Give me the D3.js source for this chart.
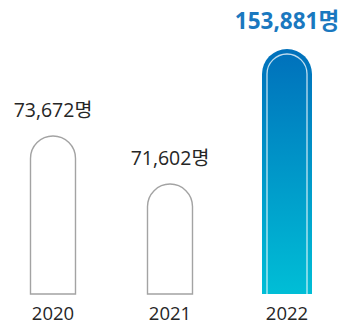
<!DOCTYPE html>
<html><head><meta charset="utf-8">
<script src="https://cdn.jsdelivr.net/npm/d3@7/dist/d3.min.js"></script>
<style>html,body{margin:0;padding:0;background:#fff;}svg{display:block;}</style>
</head><body>
<svg id="c" width="342" height="324"></svg>
<script>
const years = ["2020", "2021", "2022"];
const values = [73672, 71602, 153881];
const labels = ["73,672명", "71,602명", "153,881명"];
const highlight = [false, false, true];

const W = 342, H = 324, baseY = 294;
const svg = d3.select("#c");
const x = d3.scalePoint().domain(years).range([53, 287]);
// pictogram heights (not strictly proportional in the original)
const y = d3.scaleLinear().domain([71000, 74000, 154000]).range([198, 128.4, 48.9]);

const defs = svg.append("defs");
const g = defs.append("linearGradient").attr("id","grad").attr("x1",0).attr("y1",0).attr("x2",0).attr("y2",1);
g.append("stop").attr("offset","0%").attr("stop-color","#0070bb");
g.append("stop").attr("offset","100%").attr("stop-color","#00bed6");

function capPath(cx, w, top, bottom) {
  const r = w/2, x0 = cx - r, x1 = cx + r;
  return `M${x0},${bottom} L${x0},${top + r} A${r},${r} 0 0 1 ${x1},${top + r} L${x1},${bottom} Z`;
}
function innerPath(cx, w, top, bottom, inset) {
  const r = w/2, ri = r - inset;
  return `M${cx - ri},${bottom} L${cx - ri},${top + r} A${ri},${ri} 0 0 1 ${cx + ri},${top + r} L${cx + ri},${bottom}`;
}

const font = "'Open Sans', 'Noto Sans CJK KR', sans-serif";

years.forEach((yr, i) => {
  const cx = x(yr);
  const top = y(values[i]);
  if (highlight[i]) {
    const w = 50;
    svg.append("path").attr("d", capPath(cx, w, top, baseY)).attr("fill", "url(#grad)");
    svg.append("path").attr("d", innerPath(cx, w, top, baseY, 5)).attr("fill", "none")
      .attr("stroke", "rgba(255,255,255,0.75)").attr("stroke-width", 1.3);
    svg.append("text").attr("x", cx).attr("y", top - 20).attr("text-anchor", "middle")
      .attr("font-family", font).attr("font-size", 22.5).attr("font-weight", "bold")
      .attr("fill", "#1a78bf").text(labels[i]);
  } else {
    const w = 45;
    svg.append("path").attr("d", capPath(cx, w, top, baseY)).attr("fill", "#fff")
      .attr("stroke", "#a3a3a3").attr("stroke-width", 1.4);
    svg.append("text").attr("x", cx).attr("y", top - 19).attr("text-anchor", "middle")
      .attr("font-family", font).attr("font-size", 19.5)
      .attr("fill", "#262626").text(labels[i]);
  }
  svg.append("text").attr("x", cx).attr("y", 320).attr("text-anchor", "middle")
    .attr("font-family", font).attr("font-size", 18.5)
    .attr("fill", "#262626").text(yr);
});
</script>
</body></html>
